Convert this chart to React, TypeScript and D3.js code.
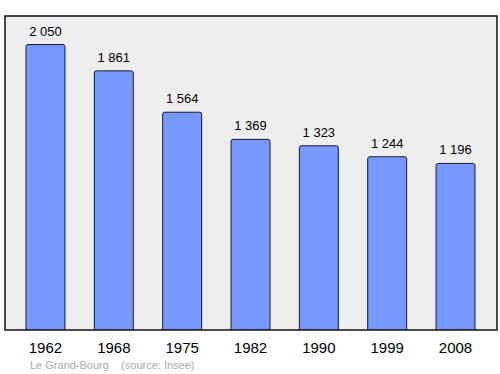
import React from "react";
import * as d3 from "d3";

const years = ["1962", "1968", "1975", "1982", "1990", "1999", "2008"];
const population = [2050, 1861, 1564, 1369, 1323, 1244, 1196];
const valueLabels = ["2 050", "1 861", "1 564", "1 369", "1 323", "1 244", "1 196"];
const footer = "Le Grand-Bourg    (source: Insee)";

export default function App() {
  const W = 500, H = 374;
  const frame = { x0: 5, y0: 16, x1: 497, y1: 330 };
  const x = d3.scaleBand<string>().domain(years).range([11.3, 489.7]).paddingInner(0.43).paddingOuter(0.215);
  const y = d3.scaleLinear().domain([0, 2255]).range([frame.y1, frame.y0]);
  const font = "Liberation Sans, Arial, sans-serif";
  return (
    <svg width={W} height={H} style={{ position: "absolute", left: 0, top: 0 }}>
      <defs>
        <clipPath id="plotClip">
          <rect x={frame.x0} y={frame.y0} width={frame.x1 - frame.x0} height={frame.y1 - frame.y0} />
        </clipPath>
      </defs>
      <rect x={0} y={0} width={W} height={H} fill="#ffffff" />
      <rect x={frame.x0} y={frame.y0} width={frame.x1 - frame.x0} height={frame.y1 - frame.y0} fill="#eeeeee" stroke="none" />
      <g clipPath="url(#plotClip)">
        {population.map((v, i) => {
          const bx = x(years[i])!;
          const bw = x.bandwidth();
          const top = y(v);
          return (
            <rect key={years[i]} x={bx} y={top} width={bw} height={frame.y1 - top + 6} rx={2} ry={2} fill="#7799ff" stroke="#1a1a2a" strokeWidth={1} />
          );
        })}
      </g>
      {population.map((v, i) => {
        const bx = x(years[i])!;
        const bw = x.bandwidth();
        const top = y(v);
        return (
          <g key={"t" + years[i]}>
            <text x={bx + bw / 2} y={top - 9} textAnchor="middle" fontFamily={font} fontSize={13} fill="#000">{valueLabels[i]}</text>
            <text x={bx + bw / 2} y={353} textAnchor="middle" fontFamily={font} fontSize={15} fill="#000">{years[i]}</text>
          </g>
        );
      })}
      <rect x={frame.x0} y={frame.y0} width={frame.x1 - frame.x0} height={frame.y1 - frame.y0} fill="none" stroke="#111" strokeWidth={1.5} />
      <text x={30} y={369} fontFamily={font} fontSize={11} fill="#aaaaaa" style={{ whiteSpace: "pre" }}>{footer}</text>
    </svg>
  );
}
